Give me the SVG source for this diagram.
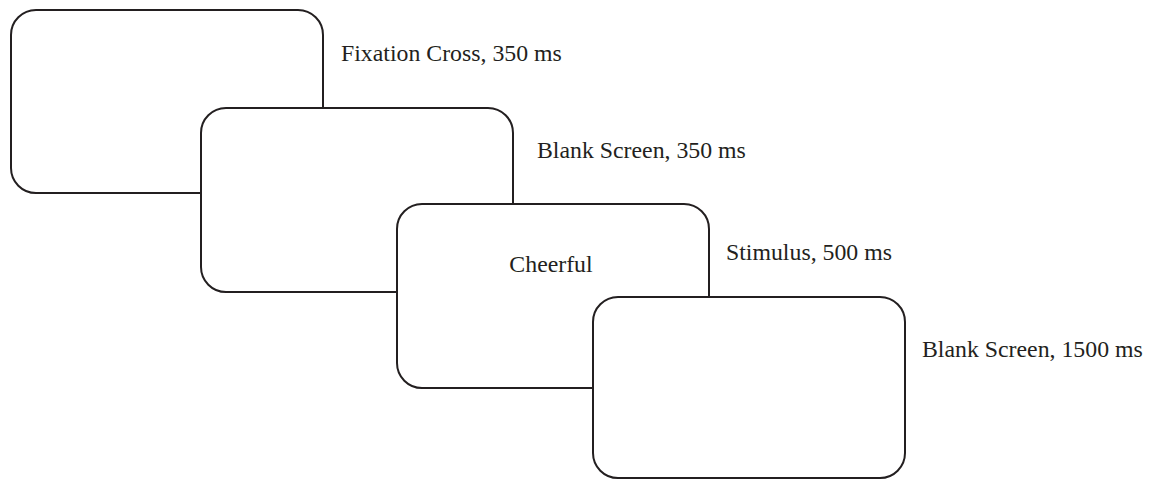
<svg xmlns="http://www.w3.org/2000/svg" width="1153" height="480" viewBox="0 0 1153 480">
<style>
.scr{fill:#fff;stroke:#231f20;stroke-width:2}
.lbl{font-family:"Liberation Serif","Times New Roman",serif;font-size:23.8px;fill:#231f20}
</style>
<rect width="1153" height="480" fill="#fff"/>
<g id="screen1"><rect class="scr" x="11" y="10" width="312" height="183" rx="25" ry="25"/><text class="lbl" x="341" y="61">Fixation Cross, 350 ms</text></g>
<g id="screen2"><rect class="scr" x="201" y="108" width="312" height="184" rx="25" ry="25"/><text class="lbl" x="537" y="158">Blank Screen, 350 ms</text></g>
<g id="screen3"><rect class="scr" x="397" y="204" width="312" height="184" rx="25" ry="25"/><text class="lbl" x="551" y="272" text-anchor="middle">Cheerful</text><text class="lbl" x="726" y="260">Stimulus, 500 ms</text></g>
<g id="screen4"><rect class="scr" x="593" y="297" width="312" height="181" rx="25" ry="25"/><text class="lbl" x="922" y="357">Blank Screen, 1500 ms</text></g>
<g id="connectors"></g>
</svg>
